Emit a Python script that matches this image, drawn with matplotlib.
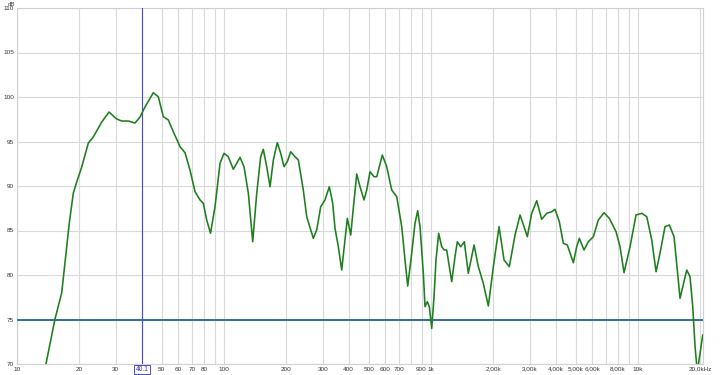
import matplotlib
matplotlib.use("Agg")
import matplotlib.pyplot as plt
from matplotlib.ticker import NullLocator

plt.rcParams["font.family"] = ["Liberation Sans", "DejaVu Sans"]

# frequency response (Hz, dB)
freq = [13.5, 13.8, 15.26, 16.44, 17.89, 18.71, 19.43, 20.54, 22.11, 23.37,
        25.66, 27.83, 30.31, 32.05, 34.5, 37.16, 39.29, 41.54, 45.54, 48.15,
        50.91, 53.82, 56.9, 61.3, 64.81, 68.5, 72.44, 76.58, 79.43, 82.49,
        86.06, 90.48, 95.65, 100.0, 104.9, 110.9, 119.5, 124.9, 131.1, 137.6,
        143.9, 150.4, 154.8, 160.8, 166.9, 173.1, 180.9, 187.9, 194.9, 202.2,
        210.0, 220.3, 228.6, 241.6, 250.9, 270.0, 280.4, 293.2, 307.5, 322.6,
        335.0, 343.7, 356.6, 370.3, 384.1, 394.2, 409.4, 421.4, 437.7, 453.9,
        474.6, 489.1, 507.4, 530.5, 546.7, 581.8, 611.0, 645.8, 682.9, 722.0,
        748.9, 771.7, 806.9, 836.9, 862.4, 885.0, 917.9, 935.4, 959.6, 981.2,
        1008, 1034, 1057, 1089, 1126, 1160, 1190, 1259, 1306, 1340,
        1392, 1448, 1514, 1614, 1693, 1789, 1892, 2000, 2131, 2253,
        2389, 2546, 2692, 2814, 2919, 3065, 3241, 3425, 3622, 3829,
        3972, 4167, 4357, 4555, 4869, 5057, 5205, 5484, 5754, 6084,
        6431, 6851, 7267, 7829, 8185, 8558, 9150, 9779, 10420, 11020,
        11650, 12220, 12770, 13500, 14170, 14930, 15960, 17190, 17830, 18380,
        18860, 19340, 19930, 20540]
spl = [68.8, 70.0, 75.06, 77.98, 85.84, 89.21, 90.45, 92.13, 94.83, 95.51,
       97.19, 98.31, 97.53, 97.3, 97.3, 97.08, 97.75, 98.88, 100.48, 100.03,
       97.79, 97.42, 96.1, 94.42, 93.74, 91.8, 89.36, 88.43, 88.06, 86.18,
       84.69, 87.67, 92.55, 93.67, 93.29, 91.88, 93.22, 92.17, 89.18, 83.74,
       89.18, 93.29, 94.12, 92.17, 89.92, 92.92, 94.87, 93.67, 92.17, 92.73,
       93.85, 93.29, 92.92, 89.55, 86.55, 84.12, 85.06, 87.67, 88.43, 89.92,
       88.06, 85.25, 83.18, 80.56, 83.93, 86.37, 84.49, 87.53, 91.35, 89.92,
       88.43, 89.55, 91.6, 91.04, 91.04, 93.48, 92.17, 89.55, 88.8, 85.43,
       81.69, 78.76, 82.44, 85.81, 87.22, 85.43, 80.19, 76.44, 77.0, 76.44,
       74.01, 77.56, 81.69, 84.69, 83.18, 82.81, 82.81, 79.25, 82.06, 83.74,
       83.18, 83.74, 80.19, 83.37, 80.93, 79.07, 76.52, 80.93, 85.43, 81.69,
       80.93, 84.49, 86.74, 85.43, 84.3, 86.93, 88.35, 86.26, 86.93, 87.11,
       87.38, 85.99, 83.56, 83.37, 81.38, 83.18, 84.12, 82.81, 83.74, 84.3,
       86.18, 87.0, 86.37, 84.87, 83.18, 80.26, 83.18, 86.74, 86.93, 86.55,
       83.93, 80.37, 82.44, 85.43, 85.62, 84.3, 77.38, 80.56, 79.81, 76.44,
       71.94, 69.1, 71.2, 73.26]

grid_freqs = [10, 20, 30, 40, 50, 60, 70, 80, 90,
              100, 200, 300, 400, 500, 600, 700, 800, 900,
              1000, 2000, 3000, 4000, 5000, 6000, 7000, 8000, 9000,
              10000, 20000]
grid_labels = ["10", "20", "30", "", "50", "60", "70", "80", "",
               "100", "200", "300", "400", "500", "600", "700", "", "900",
               "1k", "2,00k", "3,00k", "4,00k", "5,00k", "6,00k", "", "8,00k", "",
               "10k", "20,0kHz"]
db_ticks = [70, 75, 80, 85, 90, 95, 100, 105, 110]
cursor_freq = 40.1
ref_level = 75

fig = plt.figure(figsize=(7.2, 3.75), dpi=100)
ax = fig.add_axes([17 / 720, 11 / 375, 686 / 720, 356 / 375])

ax.set_xscale("log")
ax.set_xlim(10, 20600)
ax.set_ylim(70, 110)
ax.set_xticks(grid_freqs)
ax.set_xticklabels(grid_labels)
ax.xaxis.set_minor_locator(NullLocator())
ax.set_yticks(db_ticks)
ax.set_yticklabels([str(t) for t in db_ticks])
ax.tick_params(length=0, labelsize=4.6, colors="#333333", pad=2)
ax.grid(True, color="#d9d9d9", linewidth=0.8)
for s in ax.spines.values():
    s.set_color("#d0d0d0")
    s.set_linewidth(0.8)

ax.axhline(ref_level, color="#2f6f96", linewidth=1.4, zorder=3)
ax.axvline(cursor_freq, color="#4a4ad8", linewidth=0.8, zorder=3)
ax.plot(freq, spl, color="#1c7f1c", linewidth=1.15, zorder=4)

ax.annotate("40.1", xy=(cursor_freq, 0), xycoords=("data", "axes fraction"),
            xytext=(0, -3.9), textcoords="offset points",
            fontsize=4.8, color="#3030c0", ha="center", va="center",
            bbox=dict(boxstyle="square,pad=0.2", fc="white", ec="#4a4ad8", lw=0.7),
            annotation_clip=False, zorder=5)
fig.text(12 / 720, 1 - 4 / 375, "dB", fontsize=4.4, color="#333333",
         ha="center", va="center")

fig.savefig("out.png", dpi=100)
